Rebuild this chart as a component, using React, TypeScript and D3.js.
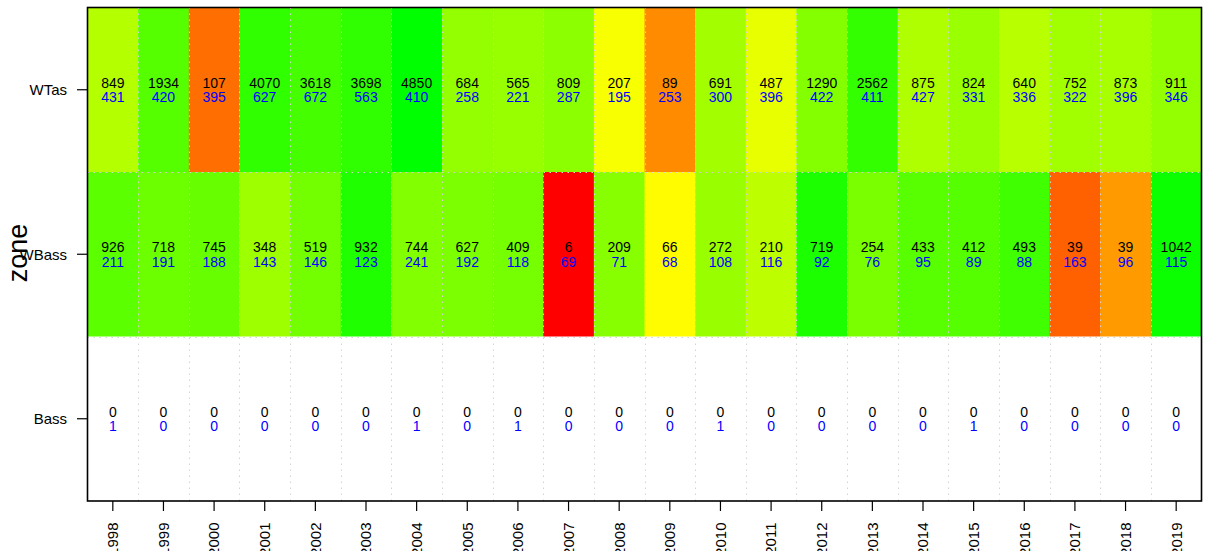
import React from "react";
import * as d3 from "d3";

const years = ["1998","1999","2000","2001","2002","2003","2004","2005","2006","2007","2008","2009","2010","2011","2012","2013","2014","2015","2016","2017","2018","2019"];
const zones = ["WTas", "WBass", "Bass"];

const wtasCount = [849,1934,107,4070,3618,3698,4850,684,565,809,207,89,691,487,1290,2562,875,824,640,752,873,911];
const wtasBlue = [431,420,395,627,672,563,410,258,221,287,195,253,300,396,422,411,427,331,336,322,396,346];
const wbassCount = [926,718,745,348,519,932,744,627,409,6,209,66,272,210,719,254,433,412,493,39,39,1042];
const wbassBlue = [211,191,188,143,146,123,241,192,118,69,71,68,108,116,92,76,95,89,88,163,96,115];
const bassCount = [0,0,0,0,0,0,0,0,0,0,0,0,0,0,0,0,0,0,0,0,0,0];
const bassBlue = [1,0,0,0,0,0,1,0,1,0,0,0,1,0,0,0,0,1,0,0,0,0];

const countsByZone = [wtasCount, wbassCount, bassCount];
const blueByZone = [wtasBlue, wbassBlue, bassBlue];

const W = 1207, H = 551;
const M = { left: 87.5, right: 1201.5, top: 7.5, bottom: 501 };
const FONT = "'Liberation Sans', Arial, Helvetica, sans-serif";

export default function App() {
  const x = d3.scaleBand<string>().domain(years).range([M.left, M.right]).padding(0);
  const y = d3.scaleBand<string>().domain(zones).range([M.top, M.bottom]).padding(0);
  const color = d3
    .scaleLinear<string>()
    .domain([-1, 0, 1])
    .range(["#ff0000", "#ffff00", "#00ff00"])
    .interpolate(d3.interpolateRgb)
    .clamp(true);

  const cells: any[] = [];
  zones.forEach((z, zi) => {
    years.forEach((yr, i) => {
      const c = countsByZone[zi][i];
      const b = blueByZone[zi][i];
      let fill = "#ffffff";
      if (c > 0 && b > 0) fill = color(Math.log10(c / b));
      else if (c > 0) fill = "#00ff00";
      cells.push({ z, yr, c, b, fill });
    });
  });

  const bw = x.bandwidth();
  const bh = y.bandwidth();

  return (
    <svg width={W} height={H} style={{ position: "absolute", left: 0, top: 0, background: "#fff" }} fontFamily={FONT}>
      {cells.map((d, i) => (
        <rect key={"r" + i} x={x(d.yr)!} y={y(d.z)!} width={bw + 0.5} height={bh + 0.5} fill={d.fill} />
      ))}
      {/* grid */}
      {years.slice(1).map((yr) => (
        <line key={"gv" + yr} x1={Math.round(x(yr)!) + 0.5} x2={Math.round(x(yr)!) + 0.5} y1={M.top} y2={M.bottom} stroke="#d3d3d3" strokeWidth={1} strokeDasharray="1.5,4.5" />
      ))}
      {zones.slice(1).map((z) => (
        <line key={"gh" + z} x1={M.left} x2={M.right} y1={Math.round(y(z)!) + 0.5} y2={Math.round(y(z)!) + 0.5} stroke="#d3d3d3" strokeWidth={1} strokeDasharray="1.5,4.5" />
      ))}
      {cells.map((d, i) => {
        const cx = x(d.yr)! + bw / 2;
        const cy = y(d.z)! + bh / 2;
        return (
          <g key={"t" + i} fontSize={14} textAnchor="middle">
            <text x={cx} y={cy - 2} fill="#000">{d.c}</text>
            <text x={cx} y={cy + 12.5} fill="#0000ff">{d.b}</text>
          </g>
        );
      })}
      {/* frame */}
      <rect x={M.left} y={M.top} width={M.right - M.left} height={M.bottom - M.top} fill="none" stroke="#000" strokeWidth={1.6} />
      {/* y axis */}
      {zones.map((z) => {
        const cy = y(z)! + bh / 2;
        return (
          <g key={"ya" + z}>
            <line x1={77} x2={M.left} y1={cy} y2={cy} stroke="#000" strokeWidth={1.2} />
            <text x={67} y={cy + 5.5} fontSize={15} textAnchor="end" fill="#000">{z}</text>
          </g>
        );
      })}
      {/* x axis */}
      {years.map((yr) => {
        const cx = x(yr)! + bw / 2;
        return (
          <g key={"xa" + yr}>
            <line x1={cx} x2={cx} y1={M.bottom} y2={511} stroke="#000" strokeWidth={1.2} />
            <text transform={`translate(${cx},${522.5}) rotate(-90)`} dy="0.36em" fontSize={15} textAnchor="end" fill="#000">{yr}</text>
          </g>
        );
      })}
      <text transform={`translate(27,253) rotate(-90)`} fontSize={27} textAnchor="middle" fill="#000">zone</text>
    </svg>
  );
}
